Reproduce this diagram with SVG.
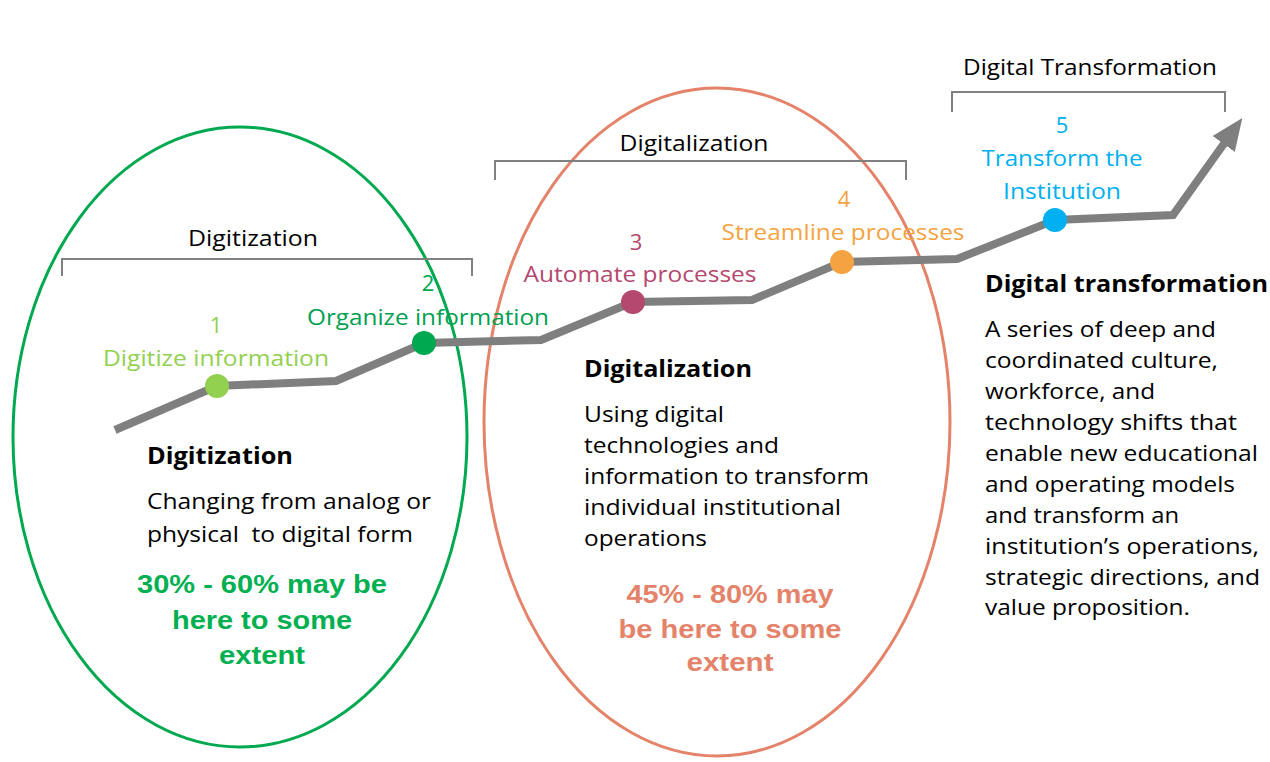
<svg xmlns="http://www.w3.org/2000/svg" width="1270" height="762" viewBox="0 0 1270 762">
<style>
.t{font-family:"Open Sans","Noto Sans",sans-serif;font-size:22px;fill:#000}
.lbl{font-family:"Open Sans","Noto Sans",sans-serif;font-size:22px}
.hd{font-family:"Open Sans","Noto Sans",sans-serif;font-size:24px;font-weight:bold;fill:#000}
.pc{font-family:"Liberation Sans",Arial,sans-serif;font-size:25px;font-weight:bold;text-anchor:middle}
.br{fill:none;stroke:#808080;stroke-width:2}
.num{font-family:"Open Sans","Noto Sans",sans-serif;font-size:22px;text-anchor:middle}
</style>
<defs>
<marker id="ah" markerWidth="4" markerHeight="4" refX="2" refY="2" orient="auto" markerUnits="strokeWidth">
<path d="M0,0.3 L4,2 L0,3.7 Z" fill="#7f7f7f"/>
</marker>
</defs>
<rect width="1270" height="762" fill="#fff"/>

<g id="ellipses">
<ellipse id="digitization-ellipse" cx="240" cy="437" rx="227" ry="310" fill="none" stroke="#00a84f" stroke-width="3"/>
<ellipse id="digitalization-ellipse" cx="717" cy="422" rx="233" ry="334" fill="none" stroke="#e4836a" stroke-width="3"/>
</g>

<g id="brackets">
<path class="br" d="M62,276 V259 H472 V276"/>
<text class="lbl" x="253" y="246" text-anchor="middle" textLength="130" lengthAdjust="spacingAndGlyphs">Digitization</text>
<path class="br" d="M495,180 V161 H906 V180"/>
<text class="lbl" x="694" y="151" text-anchor="middle" textLength="149" lengthAdjust="spacingAndGlyphs">Digitalization</text>
<path class="br" d="M952,112 V92 H1225 V112"/>
<text class="lbl" x="1090" y="75" text-anchor="middle" textLength="254" lengthAdjust="spacingAndGlyphs">Digital Transformation</text>
</g>

<g id="connectors">
<polyline points="115,430 217,386 336,381 424,343 541,340 633,302 752,300 842,262 957,259 1055,220 1173,215 1233,131" fill="none" stroke="#7f7f7f" stroke-width="8" stroke-linejoin="miter" marker-end="url(#ah)"/>
</g>

<g id="step1">
<circle cx="217" cy="386" r="12" fill="#92d050"/>
<text class="num" x="216" y="333" fill="#92d050">1</text>
<text class="lbl" x="216" y="366" text-anchor="middle" fill="#92d050" textLength="226" lengthAdjust="spacingAndGlyphs">Digitize information</text>
</g>
<g id="step2">
<circle cx="424" cy="343" r="12" fill="#00a84f"/>
<text class="num" x="428" y="291" fill="#00a84f">2</text>
<text class="lbl" x="428" y="325" text-anchor="middle" fill="#00a050" textLength="242" lengthAdjust="spacingAndGlyphs">Organize information</text>
</g>
<g id="step3">
<circle cx="633" cy="302" r="12" fill="#b5486f"/>
<text class="num" x="636" y="250" fill="#b5486f">3</text>
<text class="lbl" x="640" y="282" text-anchor="middle" fill="#b5486f" textLength="233" lengthAdjust="spacingAndGlyphs">Automate processes</text>
</g>
<g id="step4">
<circle cx="842" cy="262" r="12" fill="#f4a340"/>
<text class="num" x="844" y="207" fill="#f4a340">4</text>
<text class="lbl" x="843" y="240" text-anchor="middle" fill="#f4a340" textLength="243" lengthAdjust="spacingAndGlyphs">Streamline processes</text>
</g>
<g id="step5">
<circle cx="1055" cy="220" r="12" fill="#00b0f0"/>
<text class="num" x="1062" y="133" fill="#00b0f0">5</text>
<text class="lbl" x="1062" y="166" text-anchor="middle" fill="#00b0f0" textLength="161" lengthAdjust="spacingAndGlyphs">Transform the</text>
<text class="lbl" x="1062" y="199" text-anchor="middle" fill="#00b0f0" textLength="118" lengthAdjust="spacingAndGlyphs">Institution</text>
</g>

<g id="digitization-desc">
<text class="hd" x="147" y="464" textLength="146" lengthAdjust="spacingAndGlyphs">Digitization</text>
<text class="t" x="147" y="509" textLength="284" lengthAdjust="spacingAndGlyphs">Changing from analog or</text>
<text class="t" x="147" y="542" textLength="266" lengthAdjust="spacingAndGlyphs" xml:space="preserve">physical  to digital form</text>
<text class="pc" x="262" y="593" fill="#00b050" textLength="250" lengthAdjust="spacingAndGlyphs">30% - 60% may be</text>
<text class="pc" x="262" y="629" fill="#00b050" textLength="180" lengthAdjust="spacingAndGlyphs">here to some</text>
<text class="pc" x="262" y="664" fill="#00b050" textLength="86" lengthAdjust="spacingAndGlyphs">extent</text>
</g>

<g id="digitalization-desc">
<text class="hd" x="584" y="377" textLength="168" lengthAdjust="spacingAndGlyphs">Digitalization</text>
<text class="t" x="584" y="422" textLength="140" lengthAdjust="spacingAndGlyphs">Using digital</text>
<text class="t" x="584" y="453" textLength="195" lengthAdjust="spacingAndGlyphs">technologies and</text>
<text class="t" x="584" y="484" textLength="285" lengthAdjust="spacingAndGlyphs">information to transform</text>
<text class="t" x="584" y="515" textLength="257" lengthAdjust="spacingAndGlyphs">individual institutional</text>
<text class="t" x="584" y="546" textLength="123" lengthAdjust="spacingAndGlyphs">operations</text>
<text class="pc" x="730" y="603" fill="#e4836a" textLength="207" lengthAdjust="spacingAndGlyphs">45% - 80% may</text>
<text class="pc" x="730" y="638" fill="#e4836a" textLength="223" lengthAdjust="spacingAndGlyphs">be here to some</text>
<text class="pc" x="730" y="671" fill="#e4836a" textLength="87" lengthAdjust="spacingAndGlyphs">extent</text>
</g>

<g id="transformation-desc">
<text class="hd" x="985" y="292" textLength="283" lengthAdjust="spacingAndGlyphs">Digital transformation</text>
<text class="t" x="985" y="337" textLength="231" lengthAdjust="spacingAndGlyphs">A series of deep and</text>
<text class="t" x="985" y="368" textLength="233" lengthAdjust="spacingAndGlyphs">coordinated culture,</text>
<text class="t" x="985" y="399" textLength="170" lengthAdjust="spacingAndGlyphs">workforce, and</text>
<text class="t" x="985" y="430" textLength="252" lengthAdjust="spacingAndGlyphs">technology shifts that</text>
<text class="t" x="985" y="461" textLength="273" lengthAdjust="spacingAndGlyphs">enable new educational</text>
<text class="t" x="985" y="492" textLength="250" lengthAdjust="spacingAndGlyphs">and operating models</text>
<text class="t" x="985" y="523" textLength="194" lengthAdjust="spacingAndGlyphs">and transform an</text>
<text class="t" x="985" y="554" textLength="274" lengthAdjust="spacingAndGlyphs">institution’s operations,</text>
<text class="t" x="985" y="585" textLength="275" lengthAdjust="spacingAndGlyphs">strategic directions, and</text>
<text class="t" x="985" y="615" textLength="205" lengthAdjust="spacingAndGlyphs">value proposition.</text>
</g>
</svg>
